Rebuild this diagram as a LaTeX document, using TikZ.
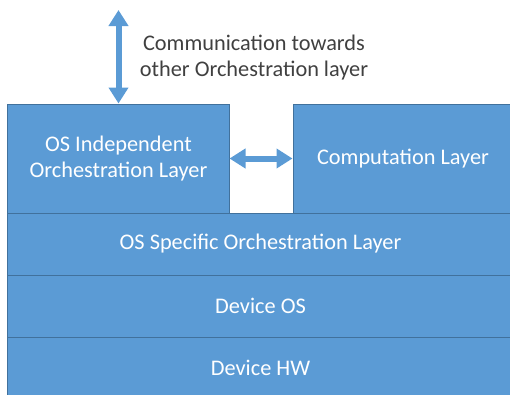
\documentclass[tikz,border=0pt]{standalone}
\usepackage{fontspec}
\setmainfont{Carlito}
\usetikzlibrary{arrows.meta}
\definecolor{layerblue}{HTML}{5B9BD5}
\definecolor{layeredge}{HTML}{41719C}
\definecolor{commtext}{HTML}{404040}

\begin{document}
\begin{tikzpicture}[x=1bp, y=1bp, every node/.style={font=\fontsize{22.4}{26}\selectfont},
    layer/.style={draw=layeredge, fill=layerblue, line width=1bp, text=white, align=center, inner sep=0pt},
    commarrow/.style={draw=layerblue, line width=6bp, {Triangle[width=19bp,length=16bp]}-{Triangle[width=19bp,length=16bp]}}]
        \clip (0,0) rectangle (510,394);
        
        \node[layer, minimum width=221bp, minimum height=109bp] (indep) at (118.5,235.5) {OS Independent \\ Orchestration Layer};
        \node[layer, minimum width=220bp, minimum height=109bp] (comp) at (403,235.5) {Computation Layer};
        \node[layer, minimum width=505bp, minimum height=62bp] (osspec) at (260.5,150) {OS Specific Orchestration Layer};
        \node[layer, minimum width=505bp, minimum height=62bp] (devos) at (260.5,88) {Device OS};
        \node[layer, minimum width=505bp, minimum height=62bp] (devhw) at (260.5,26) {Device HW};
        
        \coordinate (commtop) at (118.5,384);
        \draw[commarrow] (commtop) -- (indep.north);
        \draw[commarrow] (indep.east) -- (comp.west);
        
        \node[text=commtext, align=center] (commlabel) at (254,336.5) {Communication towards \\ other Orchestration layer};
    \end{tikzpicture}
\end{document}
